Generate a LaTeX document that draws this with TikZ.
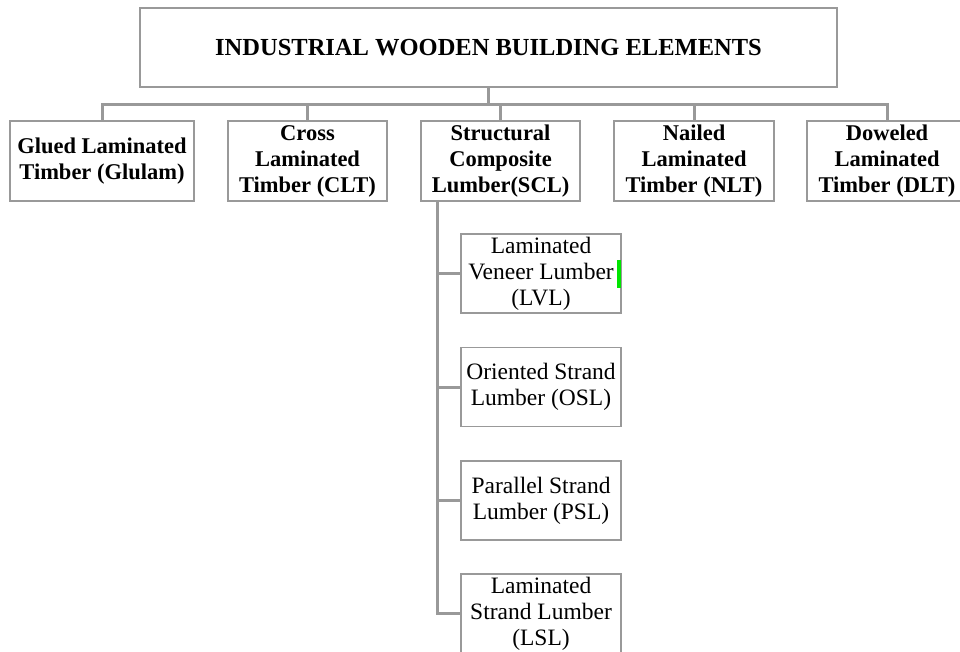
\documentclass[tikz,border=0pt]{standalone}
\usepackage{fontspec}
\setmainfont{Liberation Serif}
\usetikzlibrary{calc}

\begin{document}
\begin{tikzpicture}[x=1pt,y=-1pt,
  box/.style={draw=black!40,line width=1.6pt,fill=white,align=center,inner sep=2pt,
    minimum height=79pt,font=\fontsize{23.5}{26}\selectfont},
  head/.style={box,font=\fontsize{22.5}{26}\selectfont\bfseries},
  link/.style={draw=black!40,line width=3pt}]
  %\draw[help lines] (0,0) grid[step=50] (960,652);
  \useasboundingbox (0,0) rectangle (960,652);
  \begin{scope}
  \clip (0,0) rectangle (960,652);
  % links
  \coordinate (bus) at (488.5,105);
  \coordinate (trunk) at (437,201);
  % top
  \node[head,minimum width=697pt,font=\fontsize{24.5}{28}\selectfont\bfseries] (top) at (488.5,47.5) {INDUSTRIAL WOODEN BUILDING ELEMENTS};
  % second row
  \node[head,minimum width=184pt,minimum height=80pt] (glulam) at (102,161) {Glued Laminated\\Timber (Glulam)};
  \node[head,minimum width=159pt,minimum height=80pt] (clt) at (307.5,161) {Cross\\Laminated\\Timber (CLT)};
  \node[head,minimum width=159pt,minimum height=80pt] (scl) at (500.5,161) {Structural\\Composite\\Lumber(SCL)};
  \node[head,minimum width=160pt,minimum height=80pt] (nlt) at (694,161) {Nailed\\Laminated\\Timber (NLT)};
  \node[head,minimum width=160pt,minimum height=80pt] (dlt) at (887,161) {Doweled\\Laminated\\Timber (DLT)};
  % SCL kinds
  \node[box,minimum width=160pt] (lvl) at (541,273.5) {Laminated\\Veneer Lumber\\(LVL)};
  \node[box,minimum width=160pt] (osl) at (541,387) {Oriented Strand\\Lumber (OSL)};
  \node[box,minimum width=160pt] (psl) at (541,500.5) {Parallel Strand\\Lumber (PSL)};
  \node[box,minimum width=160pt] (lsl) at (541,613.5) {Laminated\\Strand Lumber\\(LSL)};
  \fill[green!90!black] ($(lvl.east)+(-5,-14)$) rectangle ($(lvl.east)+(-1,14)$);
  \draw[link] (top.south) -- (bus);
  \foreach \n in {glulam,clt,scl,nlt,dlt}
    \draw[link] (bus) -| (\n.north);
  \foreach \n in {lvl,osl,psl,lsl}
    \draw[link] (trunk) |- (\n.west);
  \end{scope}
\end{tikzpicture}
\end{document}
